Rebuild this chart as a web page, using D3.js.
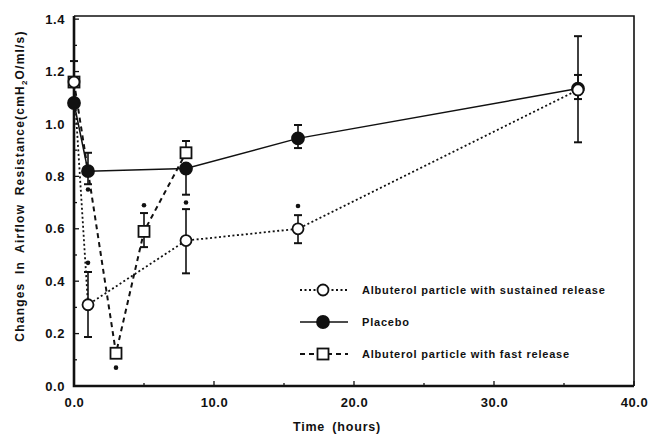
<!DOCTYPE html>
<html>
<head>
<meta charset="utf-8">
<script src="https://cdn.jsdelivr.net/npm/d3@7"></script>
<style>
  body { margin: 0; background: #fff; }
  svg { display: block; }
  text { font-family: Arial, "Liberation Sans", Helvetica, sans-serif; font-weight: bold; fill: #111; }
  .tick text { font-size: 13px; letter-spacing: 0.6px; }
  .legend text { font-size: 11px; letter-spacing: 0.8px; }
</style>
</head>
<body>
<div class="chart"></div>
<script>
const WIDTH = 652;
const HEIGHT = 439;

// plot box
const LEFT = 74, RIGHT = 634, TOP = 16, BOTTOM = 386;

// ---- data ----
var sustainedTime  = [0, 1, 8, 16, 36];
var sustainedValue = [1.16, 0.31, 0.555, 0.60, 1.13];
var sustainedHi    = [1.24, 0.435, 0.675, 0.652, 1.335];
var sustainedLo    = [null, 0.187, 0.43, 0.545, 0.93];
var sustainedStar  = [null, 0.47, 0.70, 0.687, null];

var placeboTime  = [0, 1, 8, 16, 36];
var placeboValue = [1.08, 0.82, 0.83, 0.945, 1.135];
var placeboHi    = [null, 0.89, null, 0.996, 1.187];
var placeboLo    = [null, null, 0.73, 0.908, 1.095];

var fastTime  = [0, 1, 3, 5, 8];
var fastValue = [1.16, 0.82, 0.125, 0.59, 0.89];
var fastHi    = [null, null, null, 0.66, 0.935];
var fastLo    = [null, 0.77, null, 0.53, null];
var fastStar  = [null, 0.75, 0.07, 0.69, null];
// the 1 h square sits completely under the placebo dot in the original
var fastHidden = [false, true, false, false, false];

var xTicks = [0, 10, 20, 30, 40];
var xMinor = [5, 15, 25, 35];
var yTicks = [0, 0.2, 0.4, 0.6, 0.8, 1.0, 1.2, 1.4];
var yMinor = [0.1, 0.3, 0.5, 0.7, 0.9, 1.1, 1.3];

var legendLabels = [
    'Albuterol particle with sustained release',
    'Placebo',
    'Albuterol particle with fast release'
];

var xLabel = 'Time (hours)';

var _svg, _x, _y;

var translate = function (x, y) {
    return "translate(" + x + "," + y + ")";
};

var zip = function (t, v, hi, lo, star, hidden) {
    return t.map(function (d, i) {
        return { t: d, v: v[i], hi: hi ? hi[i] : null, lo: lo ? lo[i] : null,
                 star: star ? star[i] : null, hidden: hidden ? hidden[i] : false };
    });
};

var series = [
    { name: legendLabels[0], data: zip(sustainedTime, sustainedValue, sustainedHi, sustainedLo, sustainedStar),
      dash: '2,2.5', width: 1.8, marker: 'circle', fill: '#fff' },
    { name: legendLabels[1], data: zip(placeboTime, placeboValue, placeboHi, placeboLo, null),
      dash: null, width: 1.5, marker: 'circle', fill: '#111' },
    { name: legendLabels[2], data: zip(fastTime, fastValue, fastHi, fastLo, fastStar, fastHidden),
      dash: '5,4', width: 2, marker: 'square', fill: '#fff' }
];

var drawAxes = function () {
    var xAxis = d3.axisBottom(_x).tickValues(xTicks).tickSize(0).tickPadding(12)
        .tickFormat(d3.format('.1f'));
    var yAxis = d3.axisLeft(_y).tickValues(yTicks).tickSize(0).tickPadding(9)
        .tickFormat(d3.format('.1f'));

    _svg.append('g').attr('transform', translate(0, BOTTOM)).call(xAxis)
        .call(function (g) { g.select('.domain').remove(); });
    _svg.append('g').attr('transform', translate(LEFT, 0)).call(yAxis)
        .call(function (g) { g.select('.domain').remove(); });

    // inward ticks
    var ticks = _svg.append('g').attr('stroke', '#111').attr('stroke-width', 1.3);
    ticks.selectAll('.xt').data(xTicks.concat(xMinor)).enter().append('line')
        .attr('x1', _x).attr('x2', _x)
        .attr('y1', BOTTOM).attr('y2', function (d) { return BOTTOM - (d % 10 === 0 ? 5 : 3); });
    ticks.selectAll('.yt').data(yTicks.concat(yMinor)).enter().append('line')
        .attr('y1', _y).attr('y2', _y)
        .attr('x1', LEFT).attr('x2', function (d, i) { return LEFT + (i < yTicks.length ? 5 : 3); });

    // frame
    _svg.append('path')
        .attr('d', 'M' + LEFT + ',' + TOP + 'H' + RIGHT + 'V' + BOTTOM)
        .attr('fill', 'none').attr('stroke', '#111').attr('stroke-width', 1.6);
    _svg.append('path')
        .attr('d', 'M' + LEFT + ',' + TOP + 'V' + BOTTOM + 'H' + RIGHT)
        .attr('fill', 'none').attr('stroke', '#111').attr('stroke-width', 2.6);

    _svg.append('text')
        .attr('x', 337).attr('y', 431)
        .attr('text-anchor', 'middle')
        .style('font-size', '12.5px').style('letter-spacing', '0.8px').style('word-spacing', '3px')
        .text(xLabel);

    var yl = _svg.append('text')
        .attr('transform', translate(24, 186) + ' rotate(-90)')
        .attr('text-anchor', 'middle')
        .style('font-size', '12px').style('letter-spacing', '1.2px').style('word-spacing', '4px');
    yl.append('tspan').text('Changes In Airflow Resistance(cmH');
    yl.append('tspan').attr('dy', 3).style('font-size', '8px').text('2');
    yl.append('tspan').attr('dy', -3).text('O/ml/s)');
};

var drawMarker = function (g, s, x, y) {
    if (s.marker === 'square') {
        g.append('rect').attr('x', x - 5.5).attr('y', y - 5.5).attr('width', 11).attr('height', 11)
            .attr('fill', s.fill).attr('stroke', '#111').attr('stroke-width', 1.8);
    } else {
        g.append('circle').attr('cx', x).attr('cy', y).attr('r', s.fill === '#fff' ? 5.5 : 6)
            .attr('fill', s.fill).attr('stroke', '#111').attr('stroke-width', 1.8);
    }
};

var drawSeries = function () {
    var line = d3.line().x(function (d) { return _x(d.t); }).y(function (d) { return _y(d.v); });

    // lines first
    series.forEach(function (s) {
        _svg.append('path').attr('d', line(s.data))
            .attr('fill', 'none').attr('stroke', '#111')
            .attr('stroke-width', s.width)
            .attr('stroke-dasharray', s.dash);
    });

    // error bars and significance dots
    series.forEach(function (s) {
        var g = _svg.append('g').attr('stroke', '#111').attr('stroke-width', 1.6);
        s.data.forEach(function (d) {
            var cx = _x(d.t);
            [d.hi, d.lo].forEach(function (e) {
                if (e === null) return;
                g.append('line').attr('x1', cx).attr('x2', cx).attr('y1', _y(d.v)).attr('y2', _y(e));
                g.append('line').attr('x1', cx - 4).attr('x2', cx + 4).attr('y1', _y(e)).attr('y2', _y(e))
                    .attr('stroke-width', 2);
            });
            if (d.star !== null) {
                _svg.append('circle').attr('cx', cx).attr('cy', _y(d.star)).attr('r', 2.3).attr('fill', '#111');
            }
        });
    });

    // markers: fast, then placebo, then sustained on top (as stacked in the original)
    [2, 1, 0].forEach(function (k) {
        var s = series[k];
        var g = _svg.append('g');
        s.data.forEach(function (d) {
            if (!d.hidden) drawMarker(g, s, _x(d.t), _y(d.v));
        });
    });
};

var drawLegend = function () {
    var g = _svg.append('g').attr('class', 'legend');
    var rows = d3.scaleBand().domain(d3.range(series.length)).range([274, 370]);
    series.forEach(function (s, i) {
        var cy = rows(i) + rows.bandwidth() / 2;
        var row = g.append('g');
        row.append('line').attr('x1', 300).attr('x2', 348).attr('y1', cy).attr('y2', cy)
            .attr('stroke', '#111').attr('stroke-width', s.width).attr('stroke-dasharray', s.dash);
        drawMarker(row, s, 323, cy);
        row.append('text').attr('x', 362).attr('y', cy + 4).text(s.name);
    });
};

var generateChart = function () {
    _svg = d3.select('.chart').append('svg')
        .attr('width', WIDTH)
        .attr('height', HEIGHT);

    _x = d3.scaleLinear().domain([0, 40]).range([LEFT, RIGHT]);
    _y = d3.scaleLinear().domain([0, 1.412]).range([BOTTOM, TOP]);

    drawAxes();
    drawSeries();
    drawLegend();
};

generateChart();
</script>
</body>
</html>
